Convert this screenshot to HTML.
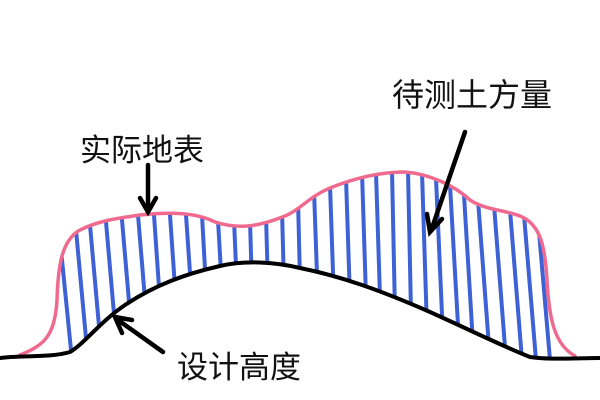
<!DOCTYPE html>
<html><head><meta charset="utf-8"><style>
html,body{margin:0;padding:0;background:#fff;}
svg{display:block}
text{font-family:"Liberation Sans","Noto Sans CJK SC",sans-serif;font-size:30px;fill:#111}
</style></head><body>
<svg width="600" height="400" viewBox="0 0 600 400">
<defs>
<clipPath id="c">
<path d="M20,355 C45,345 55,335 57,300 C58,265 62,240 80,230 C100,220 120,218 140,215 C170,212 195,212 215,222 C240,230 260,226 285,216 C300,210 310,196 330,188 C355,178 380,172 405,172 C430,174 455,186 470,200 C485,210 505,210 520,216 C540,224 545,245 547,280 C549,320 555,345 575,356 L530,357 C500,345 470,330 430,312 C380,290 340,276 300,268 C275,262 245,260 220,266 C185,274 155,285 125,305 C100,322 85,343 70,352 Z"/>
</clipPath>
</defs>
<g clip-path="url(#c)" stroke="#3e62d6" stroke-width="4" stroke-linecap="round" fill="none">
<line x1="60" y1="240" x2="72" y2="360"/><line x1="76" y1="230" x2="88" y2="360"/><line x1="90" y1="225" x2="102" y2="360"/>
<line x1="106" y1="222" x2="118" y2="360"/><line x1="122" y1="220" x2="134" y2="360"/><line x1="138" y1="215" x2="150" y2="360"/>
<line x1="154" y1="215" x2="164" y2="360"/><line x1="170" y1="215" x2="180" y2="360"/><line x1="186" y1="215" x2="196" y2="360"/>
<line x1="202" y1="215" x2="210" y2="360"/><line x1="218" y1="220" x2="226" y2="360"/><line x1="234" y1="220" x2="240" y2="360"/>
<line x1="250" y1="220" x2="254" y2="360"/><line x1="266" y1="215" x2="270" y2="360"/><line x1="282" y1="210" x2="286" y2="360"/>
<line x1="298" y1="200" x2="302" y2="360"/><line x1="314" y1="190" x2="320" y2="360"/><line x1="330" y1="185" x2="336" y2="360"/>
<line x1="346" y1="178" x2="352" y2="360"/><line x1="362" y1="172" x2="368" y2="360"/><line x1="376" y1="172" x2="382" y2="360"/>
<line x1="392" y1="170" x2="396" y2="360"/><line x1="408" y1="170" x2="412" y2="360"/><line x1="422" y1="172" x2="428" y2="360"/>
<line x1="436" y1="178" x2="444" y2="360"/><line x1="450" y1="185" x2="460" y2="360"/><line x1="464" y1="195" x2="474" y2="360"/>
<line x1="478" y1="200" x2="490" y2="360"/><line x1="494" y1="205" x2="506" y2="360"/><line x1="510" y1="210" x2="522" y2="360"/>
<line x1="524" y1="215" x2="536" y2="360"/><line x1="538" y1="220" x2="550" y2="360"/>
</g>
<path d="M20,355 C45,345 55,335 57,300 C58,265 62,240 80,230 C100,220 120,218 140,215 C170,212 195,212 215,222 C240,230 260,226 285,216 C300,210 310,196 330,188 C355,178 380,172 405,172 C430,174 455,186 470,200 C485,210 505,210 520,216 C540,224 545,245 547,280 C549,320 555,345 575,356" fill="none" stroke="#f06a8f" stroke-width="3.5" stroke-linecap="round"/>
<path d="M0,358 C20,355 50,358 70,352 C85,343 100,322 125,305 C155,285 185,274 220,266 C245,260 275,262 300,268 C340,276 380,290 430,312 C470,330 500,345 530,357 C550,360 575,358 600,358" fill="none" stroke="#000" stroke-width="4" stroke-linecap="round"/>
<g stroke="#000" stroke-width="4.5" stroke-linecap="round" fill="none">
<line x1="148" y1="165" x2="148" y2="208"/><polyline points="140,198 148,212 156,198"/>
<line x1="465" y1="132" x2="432" y2="228"/><polyline points="427,214 430,232 442,219"/>
<line x1="163" y1="352" x2="118" y2="320"/><polyline points="122,333 115,317 132,320"/>
</g>
<text x="80" y="161" style="font-size:31px">实际地表</text>
<text x="392" y="106" style="font-size:32px">待测土方量</text>
<text x="177" y="378" style="font-size:31px">设计高度</text>
</svg>
</body></html>
